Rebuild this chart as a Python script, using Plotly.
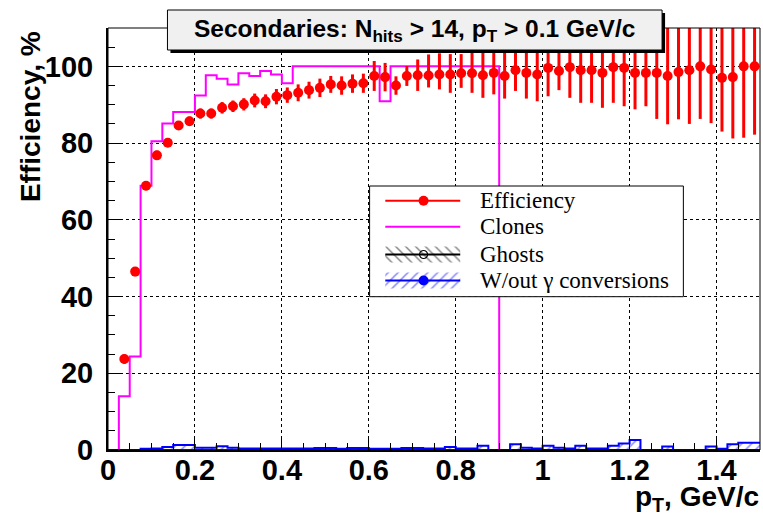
import numpy as np
import plotly.graph_objects as go

# ---------------- data ----------------
bin_lo, bin_width, n_bins = 0.0, 0.025, 60

efficiency = [None, 23.7, 46.5, 68.9, 76.8, 80.1, 84.6, 85.7, 87.7, 87.7,
              89.2, 89.6, 90.1, 91.1, 90.9, 92.1, 92.5, 93.1, 93.8, 94.4,
              95.3, 95.0, 95.5, 95.6, 97.5, 97.2, 95.0, 97.5, 97.7, 97.6,
              97.9, 97.9, 98.2, 98.2, 97.7, 98.3, 97.5, 99.0, 98.3, 97.9,
              99.6, 98.8, 99.8, 99.0, 99.0, 98.3, 99.8, 99.6, 98.3, 98.3,
              98.3, 97.5, 98.5, 99.0, 100.0, 99.2, 97.0, 97.2, 100.0, 100.0]
eff_err_low = [0, 1.2, 1.2, 1.2, 1.2, 1.0, 1.0, 1.2, 1.3, 1.3,
               1.5, 1.5, 1.6, 1.8, 1.8, 2.0, 2.0, 2.2, 2.2, 2.4,
               2.2, 2.4, 2.4, 2.5, 3.9, 3.7, 2.4, 2.6, 4.1, 3.1,
               3.9, 4.8, 3.8, 5.1, 5.9, 5.6, 5.9, 5.4, 6.7, 7.0,
               7.4, 5.0, 8.0, 8.5, 8.5, 9.1, 9.3, 10.0, 9.5, 8.7,
               12.0, 12.6, 12.3, 14.0, 13.7, 14.0, 14.0, 16.0, 18.6, 17.8]
eff_err_high = [0, 1.2, 1.2, 1.2, 1.2, 1.0, 1.0, 1.2, 1.3, 1.3,
                1.5, 1.5, 1.6, 1.8, 1.8, 2.0, 2.0, 2.2, 2.2, 2.4,
                2.2, 2.4, 2.4, 2.5, 3.9, 3.7, 2.4, 2.6, 4.1, 5.5,
                5.5, 5.3, 5.0, 8.0, 20, 20, 20, 20, 20, 20,
                20, 20, 20, 20, 20, 20, 20, 20, 20, 20,
                20, 20, 20, 20, 20, 20, 20, 20, 20, 20]
clones = [0, 14.0, 24.4, 68.9, 80.5, 85.1, 88.1, 88.1, 92.4, 97.7,
          96.8, 95.3, 98.2, 97.5, 98.8, 97.9, 95.6, 100, 100, 100,
          100, 100, 100, 100, 100, 90.9, 100, 100, 100, 100,
          100, 100, 100, 100, 100, 100, 0, 0, 0, 0,
          0, 0, 0, 0, 0, 0, 0, 0, 0, 0,
          0, 0, 0, 0, 0, 0, 0, 0, 0, 0]
ghosts = [0] * 60
no_conversions = [0, 0, 0, 0.3, 0.4, 0.8, 1.3, 1.3, 0.6, 0.6,
                  1.0, 0.6, 0.4, 0.4, 0.4, 0.4, 0.4, 0.4, 0.4, 0.5,
                  0.5, 0.3, 0.5, 0.5, 0.3, 0.3, 0.3, 0.5, 0.5, 0.4,
                  0.4, 0.8, 0.4, 0.4, 1.1, 0, 0, 1.5, 0.6, 0.4,
                  1.1, 0.6, 0.4, 1.1, 0.4, 0.4, 1.1, 1.7, 2.6, 0,
                  0, 0.9, 0, 0, 0, 0.9, 0.3, 1.5, 1.9, 1.9]

x_ticks = [0, 0.2, 0.4, 0.6, 0.8, 1.0, 1.2, 1.4]
y_ticks = [0, 20, 40, 60, 80, 100]
legend_labels = ["Efficiency", "Clones", "Ghosts", "W/out \u03b3 conversions"]

# ---------------- geometry helpers ----------------
W, H = 763, 517
L, R, T, B = 107.5, 760.0, 28.0, 450.0
def px(xp): return (xp - L) / (R - L)
def py(yp): return (B - yp) / (B - T)

edges = bin_lo + bin_width * np.arange(n_bins + 1)
centers = edges[:-1] + bin_width / 2

def step(vals):
    return list(edges), list(vals) + [vals[-1]]

RED, MAG, BLUE = "#ff0000", "#ff00ff", "#0000ff"
fig = go.Figure()

# clones histogram
ex, ey = step(clones)
fig.add_trace(go.Scatter(x=ex, y=ey, mode="lines", line=dict(color=MAG, width=2, shape="hv"),
                         showlegend=False, hoverinfo="skip"))
# ghosts histogram
ex, ey = step(ghosts)
fig.add_trace(go.Scatter(x=ex, y=ey, mode="lines", line=dict(color="black", width=1.5, shape="hv"),
                         fill="tozeroy", fillcolor="rgba(0,0,0,0)",
                         fillpattern=dict(shape="\\", fgcolor="black", bgcolor="rgba(0,0,0,0)", size=7, solidity=0.2),
                         showlegend=False, hoverinfo="skip"))
# w/out conversions histogram
ex, ey = step(no_conversions)
fig.add_trace(go.Scatter(x=ex, y=ey, mode="lines", line=dict(color=BLUE, width=2, shape="hv"),
                         fill="tozeroy", fillcolor="rgba(0,0,0,0)",
                         fillpattern=dict(shape="/", fgcolor=BLUE, bgcolor="rgba(0,0,0,0)", size=7, solidity=0.2),
                         showlegend=False, hoverinfo="skip"))
# efficiency points
fig.add_trace(go.Scatter(x=list(centers), y=efficiency, mode="markers",
                         marker=dict(color=RED, size=10, symbol="circle"),
                         error_y=dict(type="data", symmetric=False, array=eff_err_high, arrayminus=eff_err_low,
                                      color=RED, thickness=3, width=0),
                         showlegend=False))

# ---------------- custom legend (overlay axes in paper fractions) ----------------
ov = dict(xaxis="x2", yaxis="y2", showlegend=False, hoverinfo="skip")
lx0, lx1, ly0, ly1 = 369.3, 683.3, 186.0, 296.7
fig.add_trace(go.Scatter(x=[px(lx0), px(lx1), px(lx1), px(lx0), px(lx0)],
                         y=[py(ly0), py(ly0), py(ly1), py(ly1), py(ly0)],
                         mode="lines", fill="toself", fillcolor="white",
                         line=dict(color="black", width=1), **ov))
rows = [200.7, 226.7, 254.5, 280.5]
sx0, sx1, smid, tx = 385.0, 460.0, 423.3, 477.3
# hatched boxes (ghosts, w/out conversions)
for r, shp, col in [(rows[2], "\\", "black"), (rows[3], "/", BLUE)]:
    fig.add_trace(go.Scatter(x=[px(sx0), px(sx1), px(sx1), px(sx0), px(sx0)],
                             y=[py(r - 8), py(r - 8), py(r + 8), py(r + 8), py(r - 8)],
                             mode="lines", fill="toself", fillcolor="rgba(0,0,0,0)",
                             line=dict(width=0, color="rgba(0,0,0,0)"),
                             fillpattern=dict(shape=shp, fgcolor=col, bgcolor="rgba(0,0,0,0)", size=7, solidity=0.2),
                             **ov))
for r, col in zip(rows, [RED, MAG, "black", BLUE]):
    fig.add_trace(go.Scatter(x=[px(sx0), px(sx1)], y=[py(r), py(r)], mode="lines",
                             line=dict(color=col, width=2), **ov))
fig.add_trace(go.Scatter(x=[px(smid)], y=[py(rows[0])], mode="markers",
                         marker=dict(color=RED, size=10), **ov))
fig.add_trace(go.Scatter(x=[px(smid)], y=[py(rows[2])], mode="markers",
                         marker=dict(color="black", size=8, symbol="circle-open", line=dict(width=1.2)), **ov))
fig.add_trace(go.Scatter(x=[px(smid)], y=[py(rows[3])], mode="markers",
                         marker=dict(color=BLUE, size=10), **ov))

axis_font = dict(family="Liberation Sans", size=29, color="black", weight="bold")

fig.update_xaxes(range=[0, 1.5], tickvals=x_ticks, ticktext=[f"{v:g}" for v in x_ticks],
                 ticks="inside", ticklen=13, tickwidth=1, tickcolor="black",
                 minor=dict(ticks="inside", dtick=0.05, tick0=0, ticklen=7, tickcolor="black", showgrid=False),
                 showline=True, linecolor="black", linewidth=2,
                 showgrid=True, gridcolor="black", gridwidth=1, griddash="dot",
                 zeroline=False, tickfont=axis_font, ticklabelstandoff=-7)
fig.update_yaxes(range=[0, 110], tickvals=y_ticks, ticktext=[str(v) for v in y_ticks],
                 ticks="inside", ticklen=13, tickwidth=1, tickcolor="black",
                 minor=dict(ticks="inside", dtick=5, tick0=0, ticklen=7, tickcolor="black", showgrid=False),
                 showline=True, linecolor="black", linewidth=2,
                 showgrid=True, gridcolor="black", gridwidth=1, griddash="dot",
                 zeroline=False, tickfont=axis_font, ticklabelstandoff=7)

shapes = [
    dict(type="rect", xref="paper", yref="paper", x0=0, x1=1, y0=0, y1=1,
         line=dict(color="black", width=1), layer="above"),
    # title box shadow
    dict(type="rect", xref="paper", yref="paper", x0=px(170), x1=px(665), y0=py(53), y1=py(13),
         line=dict(width=0), fillcolor="black", layer="above"),
    dict(type="rect", xref="paper", yref="paper", x0=px(167), x1=px(662), y0=py(50), y1=py(10),
         line=dict(color="black", width=1), fillcolor="#f0f0f0", layer="above"),
]

legend_font = dict(family="Liberation Serif", size=23, color="black")
annotations = [
    dict(text="Secondaries: N<sub>hits</sub> > 14, p<sub>T</sub> > 0.1 GeV/c", xref="paper", yref="paper",
         x=px(414), y=py(30), xanchor="center", yanchor="middle", showarrow=False,
         font=dict(family="Liberation Sans", size=24.5, color="black", weight="bold")),
    dict(text="p<sub>T</sub>, GeV/c", xref="paper", yref="paper", x=1.0, y=py(516.5),
         xanchor="right", yanchor="bottom", showarrow=False, borderpad=0,
         font=dict(family="Liberation Sans", size=28, color="black", weight="bold")),
    dict(text="Efficiency, %", xref="paper", yref="paper", x=px(30), y=py(29),
         xanchor="center", yanchor="top", textangle=-90, showarrow=False,
         font=dict(family="Liberation Sans", size=28, color="black", weight="bold")),
]
for r, lab in zip(rows, legend_labels):
    annotations.append(dict(text=lab, xref="paper", yref="paper", x=px(tx), y=py(r),
                            xanchor="left", yanchor="middle", showarrow=False, font=legend_font))

fig.update_layout(
    width=W, height=H,
    margin=dict(l=L, r=W - R, t=T, b=H - B, autoexpand=False),
    paper_bgcolor="white", plot_bgcolor="white",
    shapes=shapes, annotations=annotations,
    showlegend=False,
    xaxis2=dict(domain=[0, 1], range=[0, 1], overlaying="x", anchor="y2", visible=False, fixedrange=True),
    yaxis2=dict(domain=[0, 1], range=[0, 1], overlaying="y", anchor="x2", visible=False, fixedrange=True),
)

fig.write_html("out.html")
